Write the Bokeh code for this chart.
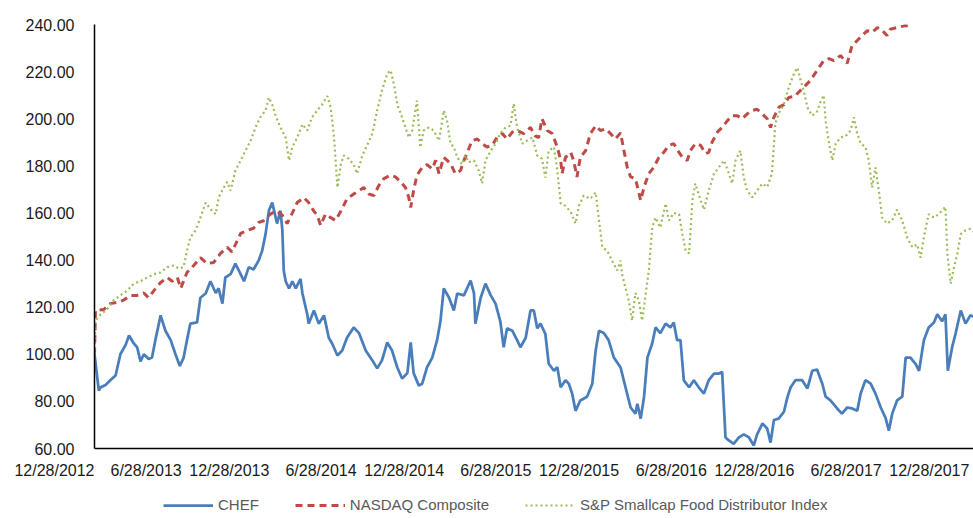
import pandas as pd
from bokeh.plotting import figure
from bokeh.layouts import column
from bokeh.models import (FixedTicker, NumeralTickFormatter, Legend, LegendItem, Range1d)
from bokeh.embed import file_html
from bokeh.resources import INLINE

START = "2012-12-28"

x_tick_labels = ["12/28/2012", "6/28/2013", "12/28/2013", "6/28/2014", "12/28/2014",
                 "6/28/2015", "12/28/2015", "6/28/2016", "12/28/2016", "6/28/2017", "12/28/2017"]
y_ticks = [60, 80, 100, 120, 140, 160, 180, 200, 220, 240]
series_names = ["CHEF", "NASDAQ Composite", "S&P Smallcap Food Distributor Index"]

# day offsets from 12/28/2012 and index values
chef_day = [0, 9, 13, 23, 33, 44, 54, 65, 72, 82, 89, 96, 103, 113, 120, 127, 138, 148, 159, 169,
            178, 186, 193, 200, 214, 221, 232, 242, 253, 259, 267, 273, 284, 294, 305, 312, 322, 332, 343, 350,
            357, 364, 371, 381, 388, 392, 395, 399, 406, 413, 420, 430, 434, 444, 447, 458, 468, 479, 489, 496,
            507, 517, 527, 541, 552, 566, 580, 590, 600, 611, 621, 632, 642, 653, 660, 666, 677, 684, 694, 705,
            715, 722, 729, 740, 750, 757, 771, 785, 792, 795, 806, 816, 827, 837, 847, 854, 861, 872, 882, 889,
            900, 910, 917, 924, 931, 941, 948, 959, 966, 973, 983, 990, 997, 1004, 1014, 1028, 1039, 1046, 1053, 1063,
            1073, 1084, 1098, 1112, 1119, 1129, 1133, 1140, 1147, 1154, 1164, 1171, 1181, 1192, 1202, 1209, 1216, 1223, 1230, 1241,
            1251, 1261, 1272, 1282, 1293, 1303, 1310, 1317, 1324, 1334, 1345, 1355, 1366, 1376, 1383, 1394, 1404, 1411, 1418, 1428,
            1439, 1446, 1453, 1463, 1477, 1488, 1498, 1508, 1519, 1526, 1536, 1550, 1560, 1571, 1581, 1592, 1599, 1609, 1620, 1630,
            1641, 1651, 1658, 1665, 1675, 1686, 1693, 1703, 1714, 1721, 1731, 1741, 1752, 1759, 1769, 1776, 1781, 1790, 1797, 1808,
            1818, 1828, 1835]
chef_val = [100, 84.6, 86, 87, 89, 91, 100, 104, 108, 104.6, 103, 97, 100, 98, 98.6, 106, 116.5, 110, 106, 100,
            95, 98.6, 106, 113, 113.5, 124, 125.8, 131, 126, 128, 121.5, 132.6, 134, 138.5, 134, 131, 137, 136, 140, 144,
            151, 161, 164.4, 155.5, 161, 153, 135.6, 131, 128, 131, 128, 132, 125.8, 117, 113, 118.6, 113, 116.5, 107, 104.6,
            99.5, 101.6, 107, 111.4, 109, 101.6, 97.4, 94, 97.4, 105, 101.6, 94.4, 89.7, 92, 105, 92, 86.7, 87.5, 94.4, 98.6,
            106, 114, 128, 124, 118.6, 125.8, 125, 131.3, 126, 113, 124, 130, 125, 121.5, 114, 103, 111, 110, 106, 103,
            107, 118.6, 118.6, 111, 113, 108.6, 96, 93, 94.5, 86, 89, 87.5, 83.3, 76, 80.4, 82, 87.5, 101.6, 110, 109,
            106, 98.6, 94.4, 83, 77.4, 74.8, 79, 72.7, 82, 98.6, 104.6, 111.4, 109, 113, 111.4, 113.5, 106, 106, 88.9, 86,
            89, 86, 83.3, 89, 91.8, 91.8, 92.5, 64.7, 63.4, 62, 64.7, 66, 64.7, 61.3, 66, 70.6, 68.5, 62.5, 72.1, 72.7,
            75.6, 81.6, 86, 89, 89, 85.5, 93, 93.5, 87.5, 82, 80.4, 77, 74.8, 77.4, 77, 76, 83.3, 89, 87.5, 83.3,
            77.4, 73, 67.6, 74.8, 80.4, 82, 98.6, 98.6, 95.8, 93, 106, 111.4, 113.5, 117, 114, 117, 93, 103, 108.6, 118.6,
            113, 116.5, 116]

nasdaq_day = [0, 2, 19, 33, 47, 61, 75, 89, 103, 113, 124, 138, 152, 162, 173, 180, 193, 207, 221, 235,
              249, 263, 277, 287, 305, 319, 332, 343, 353, 364, 371, 381, 392, 402, 413, 423, 437, 447, 458, 465,
              472, 482, 493, 503, 514, 527, 541, 552, 562, 573, 583, 593, 604, 618, 628, 639, 649, 656, 660, 666,
              673, 684, 694, 705, 712, 719, 729, 743, 753, 764, 771, 778, 788, 799, 809, 819, 830, 840, 851, 861,
              872, 882, 896, 910, 920, 927, 934, 945, 955, 966, 973, 976, 983, 994, 1000, 1007, 1014, 1025, 1035, 1046,
              1056, 1067, 1077, 1087, 1098, 1105, 1112, 1119, 1129, 1140, 1147, 1157, 1167, 1178, 1188, 1199, 1209, 1220, 1227, 1237,
              1244, 1254, 1265, 1275, 1282, 1289, 1300, 1310, 1321, 1331, 1341, 1352, 1362, 1373, 1383, 1394, 1404, 1411, 1418, 1428,
              1439, 1449, 1463, 1467, 1480, 1494, 1508, 1522, 1533, 1543, 1557, 1571, 1581, 1592, 1602, 1613, 1623, 1634, 1644, 1654,
              1661, 1693, 1700]
nasdaq_val = [100, 118.6, 119, 121.5, 122, 123, 125, 125, 126, 124, 127, 130.5, 132.6, 131, 132.6, 128, 134.7, 137.7, 141, 138.5,
              139, 142.8, 145.4, 143.5, 151.3, 152.6, 153.5, 156, 156.7, 159, 160, 160.7, 159, 155.5, 160, 164.4, 166.5, 164.4, 160.7, 159,
              154.7, 159.5, 158, 156.8, 160.7, 166, 168, 169.5, 170.8, 168, 167.4, 171.5, 174.6, 176, 175.3, 173.2, 170.8, 166.5, 162.3, 169.5,
              176, 179.3, 180.5, 178.7, 182.3, 176.7, 183.6, 181, 176.7, 178, 182.3, 185.7, 190.7, 191.4, 189.4, 188, 188.7, 192, 193.7, 191.4,
              194.3, 195, 193.7, 196.3, 192.7, 192, 200, 195, 193.7, 188, 182.3, 176.7, 183.6, 185.7, 182.3, 175.3, 183.6, 186.4, 193.7, 197,
              195, 195.7, 193.7, 191.4, 194, 186.5, 179.3, 175.3, 174.6, 165.3, 171, 176.7, 179.3, 183.6, 185.7, 188.7, 189.4, 185.7, 183.6, 182.3,
              186.5, 189.4, 188.7, 185.2, 185.7, 190, 194.3, 196.3, 199.2, 201.3, 201.3, 200, 202, 203.5, 204, 202, 200, 196.3, 200.6, 204.8,
              206, 209, 209.6, 210.7, 213.3, 216.2, 220.5, 224.7, 225.5, 224.7, 226.8, 223.5, 231, 233.2, 235.3, 237.4, 236.7, 238.7, 237.5, 235.3,
              238, 239.6, 239]

sp_day = [0, 2, 13, 26, 40, 54, 68, 82, 96, 110, 124, 138, 152, 166, 176, 186, 193, 200, 211, 221,
          232, 242, 253, 259, 270, 277, 284, 294, 305, 315, 326, 336, 346, 357, 364, 371, 378, 388, 399, 406,
          413, 423, 434, 444, 454, 465, 475, 486, 493, 500, 507, 514, 520, 531, 541, 548, 559, 569, 580, 590,
          600, 611, 618, 625, 632, 642, 649, 656, 663, 673, 680, 687, 698, 708, 719, 729, 736, 743, 750, 757,
          767, 774, 781, 792, 802, 809, 816, 827, 837, 847, 858, 868, 875, 882, 893, 903, 914, 924, 934, 941,
          948, 959, 966, 973, 983, 994, 1004, 1011, 1021, 1035, 1046, 1053, 1060, 1070, 1080, 1091, 1098, 1101, 1108, 1115,
          1122, 1129, 1136, 1143, 1150, 1157, 1164, 1171, 1181, 1192, 1199, 1209, 1220, 1227, 1234, 1241, 1248, 1254, 1265, 1272,
          1282, 1293, 1303, 1314, 1324, 1331, 1338, 1348, 1355, 1362, 1373, 1383, 1394, 1404, 1414, 1421, 1428, 1439, 1449, 1460,
          1467, 1474, 1480, 1488, 1498, 1508, 1515, 1522, 1526, 1533, 1540, 1547, 1557, 1568, 1578, 1585, 1592, 1599, 1609, 1616,
          1623, 1630, 1637, 1644, 1654, 1665, 1675, 1686, 1696, 1707, 1717, 1724, 1731, 1741, 1752, 1762, 1776, 1780, 1787, 1794,
          1801, 1808, 1818, 1828, 1835]
sp_val = [100, 114.3, 117, 119, 123, 125, 127, 130, 131, 132.6, 134, 134.7, 137, 137.7, 136.4, 137, 144, 149.6, 152.6, 158,
          164.4, 161.7, 159.5, 166.5, 170.8, 173.2, 169.5, 178, 182.3, 186.4, 190.7, 196.3, 200.6, 203.5, 209, 206, 201.3, 196.3, 192, 182.3,
          188, 192, 197.6, 195, 200.6, 203.5, 206, 209.6, 204.8, 192, 170.8, 180.5, 184.4, 183, 180.5, 176.7, 184.4, 188.7, 193.7, 203.5,
          212, 219.2, 220.5, 214.6, 206, 200.6, 196.3, 192, 195, 207.7, 187.8, 195, 196.3, 195, 190.7, 203.5, 199, 189.4, 188, 183.6,
          180.6, 184.4, 181.5, 182.3, 178, 172.5, 182.3, 186.4, 189.4, 193.7, 196.3, 197, 206.4, 196.3, 189.4, 190.7, 192, 184.4, 183, 175,
          186.4, 188, 178, 164, 163, 160.4, 155.5, 163, 167.4, 166, 168.7, 156.8, 145.4, 144, 139.8, 135.6, 139.8, 134, 128.4, 122.8,
          114.3, 126, 123, 114.3, 125, 135.6, 153.8, 158, 153.8, 164, 156.8, 160, 159.5, 151, 144, 142.8, 165.4, 172.5, 165.4, 161.4,
          169.5, 176.7, 179.3, 182.3, 176.7, 172.5, 182.3, 186.4, 175.3, 169.5, 166.6, 169.5, 172.5, 171, 176.7, 198, 202.2, 206.4, 213.3, 219.2,
          221.7, 216.2, 212, 204.8, 201.3, 203, 207, 210, 199, 189.5, 182.3, 189.5, 192, 192.7, 195, 200.6, 193.7, 189.5, 188, 182.3,
          170.8, 179.3, 169.5, 158, 155.5, 156.8, 161.4, 156.8, 149.6, 145.4, 146.6, 141, 149.6, 159.5, 158, 159.5, 162.6, 142.8, 130, 137,
          142.8, 151, 152.6, 153.3, 152]

COLORS = ["#4A7EBB", "#BE4B48", "#9BBB59"]
WIDTHS = [2.75, 3, 2.2]
DASHES = ["solid", "7 5", "2 3"]
FONT = "Liberation Sans"

start = pd.Timestamp(START)
x_tick_pos = [int((pd.to_datetime(s, format="%m/%d/%Y") - start).days) for s in x_tick_labels]

# ---- main chart ----
p = figure(width=973, height=494, output_backend="svg", toolbar_location=None,
           x_range=Range1d(0, 1834.6), y_range=Range1d(60, 240),
           min_border_left=94, min_border_right=0, min_border_top=24, min_border_bottom=46)
p.outline_line_color = None
p.xgrid.visible = False
p.ygrid.visible = False

series = [(chef_day, chef_val), (nasdaq_day, nasdaq_val), (sp_day, sp_val)]
for (xs, ys), c, w, d in zip(series, COLORS, WIDTHS, DASHES):
    p.line(xs, ys, line_color=c, line_width=w, line_dash=d)

xa = p.xaxis[0]
xa.ticker = FixedTicker(ticks=x_tick_pos)
xa.major_label_overrides = {pos: lbl for pos, lbl in zip(x_tick_pos, x_tick_labels)}
xa.major_label_orientation = 0.0001   # right-aligns each label at its tick
xa.major_tick_out = 0
xa.major_tick_in = 0
xa.minor_tick_out = 0
xa.minor_tick_in = 0
xa.axis_line_color = "black"
xa.axis_line_width = 1.5
xa.major_label_text_font = FONT
xa.major_label_text_font_size = "16px"
xa.major_label_text_color = "#1a1a1a"
xa.major_label_standoff = 22

ya = p.yaxis[0]
ya.ticker = FixedTicker(ticks=y_ticks)
ya.formatter = NumeralTickFormatter(format="0.00")
ya.major_tick_out = 0
ya.major_tick_in = 0
ya.minor_tick_out = 0
ya.minor_tick_in = 0
ya.axis_line_color = "black"
ya.axis_line_width = 1.5
ya.major_label_text_font = FONT
ya.major_label_text_font_size = "16px"
ya.major_label_text_color = "#1a1a1a"
ya.major_label_standoff = 20

# ---- legend strip (same styles as the series above) ----
lg = figure(width=973, height=24, output_backend="svg", toolbar_location=None,
            x_range=Range1d(0, 1), y_range=Range1d(0, 1),
            x_axis_location=None, y_axis_location=None,
            min_border_left=0, min_border_right=0, min_border_top=0, min_border_bottom=0)
lg.outline_line_color = None
lg.xgrid.visible = False
lg.ygrid.visible = False
items = []
for name, c, w, d in zip(series_names, COLORS, WIDTHS, DASHES):
    r = lg.line([float("nan")], [float("nan")], line_color=c, line_width=w, line_dash=d)
    items.append(LegendItem(label=name, renderers=[r]))
legend = Legend(items=items, orientation="horizontal", location=(69, 5),
                glyph_width=50, glyph_height=16, label_standoff=5, spacing=36,
                padding=0, margin=0, border_line_color=None, background_fill_alpha=0,
                label_text_font=FONT, label_text_font_size="15px", label_text_color="#595959")
lg.add_layout(legend, "center")

open("out.html", "w").write(file_html(column(p, lg, spacing=0), INLINE))
